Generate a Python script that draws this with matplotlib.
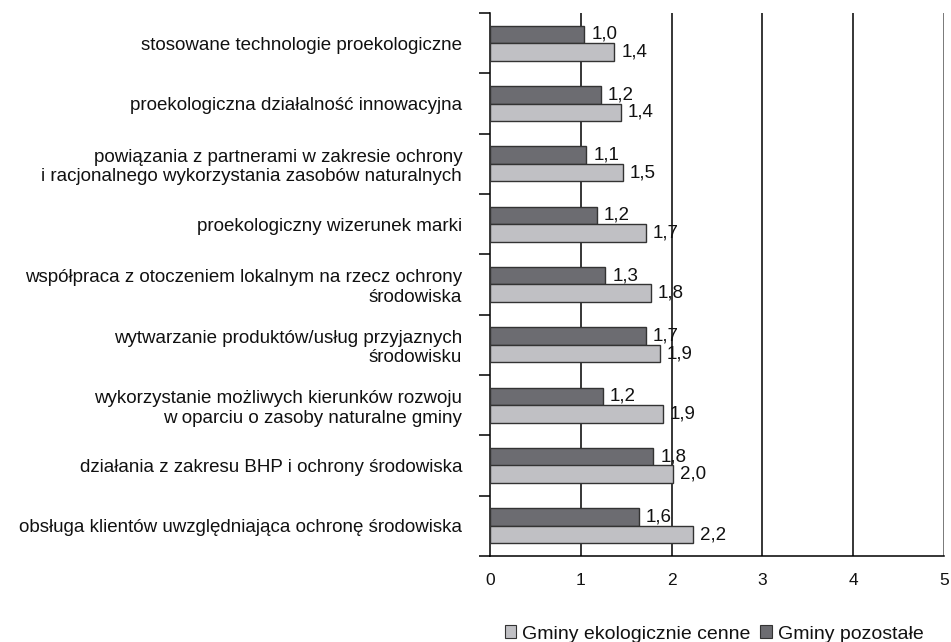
import matplotlib
matplotlib.use('Agg')
import matplotlib.pyplot as plt
from matplotlib.patches import Patch

plt.rcParams['font.family'] = ['Liberation Sans', 'DejaVu Sans']

categories = [
    'stosowane technologie proekologiczne',
    'proekologiczna działalność innowacyjna',
    'powiązania z partnerami w zakresie ochrony\ni racjonalnego wykorzystania zasobów naturalnych',
    'proekologiczny wizerunek marki',
    'współpraca z otoczeniem lokalnym na rzecz ochrony\nśrodowiska',
    'wytwarzanie produktów/usług przyjaznych\nśrodowisku',
    'wykorzystanie możliwych kierunków rozwoju\nw oparciu o zasoby naturalne gminy',
    'działania z zakresu BHP i ochrony środowiska',
    'obsługa klientów uwzględniająca ochronę środowiska',
]
# mean scores per municipality group
pozostale = [1.04, 1.22, 1.06, 1.18, 1.27, 1.72, 1.24, 1.80, 1.64]
cenne = [1.37, 1.44, 1.46, 1.72, 1.77, 1.87, 1.90, 2.02, 2.24]

series_names = ['Gminy ekologicznie cenne', 'Gminy pozostałe']
x_ticks = [0, 1, 2, 3, 4, 5]

DARK = '#6c6c71'
LIGHT = '#c0c0c4'
EDGE = '#333333'
TXT = '#111111'

fig = plt.figure(figsize=(9.51, 6.42), dpi=100)
ax = fig.add_axes([490 / 951, 1 - 556 / 642, 454 / 951, 543 / 642])

pos = list(range(len(categories)))
h = 0.29
off = 0.145
ax.barh([p - off for p in pos], pozostale, height=h, color=DARK,
        edgecolor=EDGE, linewidth=1, zorder=3)
ax.barh([p + off for p in pos], cenne, height=h, color=LIGHT,
        edgecolor=EDGE, linewidth=1, zorder=3)

def fmt(v):
    return f'{v:.1f}'.replace('.', ',')

for p, v in zip(pos, pozostale):
    ax.annotate(fmt(v), (v, p - off), xytext=(5, 0), textcoords='offset points',
                va='center', ha='left', fontsize=13.5, color=TXT)
for p, v in zip(pos, cenne):
    ax.annotate(fmt(v), (v, p + off), xytext=(5, 0), textcoords='offset points',
                va='center', ha='left', fontsize=13.5, color=TXT)

for xv in x_ticks[1:]:
    ax.axvline(xv, color='black' if xv < 5 else '#555555',
               linewidth=1.1, zorder=1)

ax.set_xlim(0, 5)
ax.set_ylim(len(categories) - 0.5, -0.5)
ax.set_xticks(x_ticks)
ax.set_xticklabels([str(t) for t in x_ticks], fontsize=12.5, color=TXT)
ax.tick_params(axis='x', length=0, pad=12)

ax.set_yticks(pos)
ax.set_yticklabels(categories, fontsize=13.5, linespacing=1.2, color=TXT)
ax.tick_params(axis='y', which='major', length=0, pad=20)
ax.set_yticks([p - 0.5 for p in range(len(categories) + 1)], minor=True)
ax.tick_params(axis='y', which='minor', length=8, width=1.1, direction='out')

for s in ['top', 'right']:
    ax.spines[s].set_visible(False)
ax.spines['left'].set_linewidth(1.1)
ax.spines['bottom'].set_linewidth(1.1)

handles = [Patch(facecolor=LIGHT, edgecolor=EDGE, linewidth=0.8),
           Patch(facecolor=DARK, edgecolor=EDGE, linewidth=0.8)]
leg = fig.legend(handles, series_names, loc='center', ncol=2, frameon=False,
                 bbox_to_anchor=(714 / 951, 1 - 634 / 642), fontsize=14,
                 handlelength=0.6, handleheight=0.6, handletextpad=0.3,
                 columnspacing=0.5, borderpad=0)
for t in leg.get_texts():
    t.set_color(TXT)

fig.savefig('out.png', dpi=100)
